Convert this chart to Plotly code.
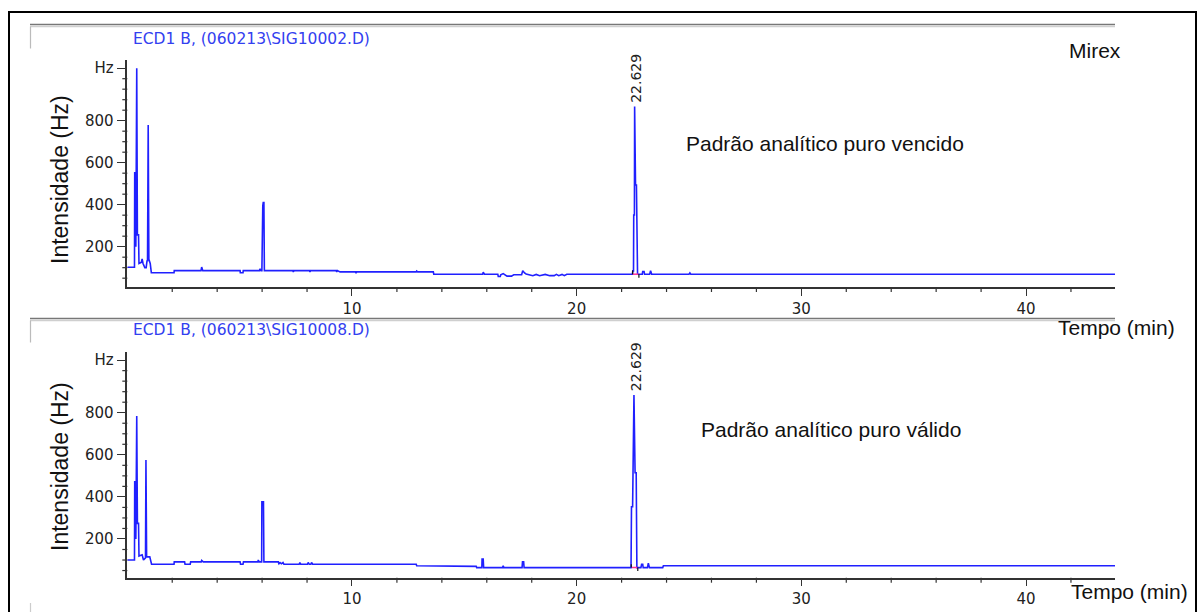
import plotly.graph_objects as go

W, H = 1197, 612

# ---------------- data ----------------
top_time = [0.00, 0.32, 0.33, 0.36, 0.38, 0.42, 0.45, 0.50, 0.52, 0.62, 0.66, 0.70, 0.78, 0.84, 0.88, 0.90,
            0.93, 0.96, 1.02, 1.07, 2.08, 2.09, 3.28, 3.31, 3.36, 5.02, 5.03, 5.15, 5.16, 5.88, 5.91, 5.95,
            5.99, 6.00, 6.03, 6.05, 6.08, 6.10, 7.37, 7.39, 7.42, 8.11, 8.13, 8.16, 9.30, 9.32, 9.35, 9.47,
            10.16, 10.18, 10.21, 12.86, 12.88, 12.92, 13.62, 13.64, 15.82, 15.84, 15.90, 16.49, 16.51, 16.60,
            16.62, 16.73, 16.80, 16.90, 17.10, 17.20, 17.55, 17.60, 17.68, 17.75, 18.05, 18.20, 18.35, 18.60,
            18.80, 19.00, 19.10, 19.20, 19.35, 19.45, 19.56, 22.48, 22.50, 22.53, 22.54, 22.57, 22.58, 22.62,
            22.66, 22.68, 22.71, 22.92, 22.94, 23.00, 23.02, 23.25, 23.29, 23.34, 25.00, 25.04, 25.08, 43.96]
top_int = [102, 102, 552, 552, 200, 1050, 256, 256, 120, 125, 142, 120, 100, 100, 135, 130,
           780, 140, 120, 76, 76, 86, 86, 103, 86, 86, 76, 76, 86, 86, 95, 86,
           86, 395, 395, 410, 410, 86, 86, 80, 86, 86, 80, 86, 86, 80, 86, 80,
           80, 74, 80, 80, 84, 80, 80, 69, 69, 78, 69, 69, 58, 58,
           66, 72, 66, 60, 60, 66, 66, 86, 75, 70, 62, 68, 62, 68,
           62, 62, 68, 62, 68, 62, 69, 69, 85, 85, 351, 351, 867, 494,
           494, 69, 69, 69, 82, 82, 69, 69, 85, 69, 69, 75, 69, 69]

bot_time = [0.00, 0.32, 0.33, 0.36, 0.38, 0.42, 0.45, 0.50, 0.52, 0.62, 0.66, 0.72, 0.78, 0.81, 0.83, 0.86,
            1.00, 1.08, 2.08, 2.09, 2.55, 2.57, 2.80, 2.82, 3.29, 3.31, 3.38, 5.02, 5.04, 5.15, 5.17, 5.81,
            5.83, 5.87, 5.98, 5.99, 6.06, 6.08, 6.72, 6.75, 6.80, 6.86, 6.93, 6.97, 7.65, 7.68, 7.72, 8.02,
            8.05, 8.10, 8.17, 8.20, 8.25, 12.86, 12.88, 13.17, 13.19, 15.53, 15.55, 15.78, 15.79, 15.84,
            15.86, 16.70, 16.73, 16.76, 17.57, 17.59, 17.64, 17.66, 22.42, 22.44, 22.49, 22.55, 22.60,
            22.65, 22.68, 22.86, 22.89, 22.94, 22.96, 23.15, 23.19, 23.24, 23.83, 23.86, 43.96]
bot_int = [100, 100, 472, 472, 200, 784, 274, 274, 119, 125, 125, 100, 110, 110, 575, 115,
           115, 80, 80, 91, 91, 80, 80, 91, 91, 98, 91, 91, 80, 80, 91, 91,
           100, 91, 91, 377, 377, 91, 91, 82, 88, 82, 88, 80, 80, 88, 80, 80,
           88, 80, 80, 88, 80, 80, 73, 73, 70, 70, 64, 64, 105, 105,
           64, 64, 73, 64, 64, 92, 92, 64, 64, 353, 353, 884, 515,
           515, 64, 64, 80, 80, 64, 64, 85, 64, 64, 73, 73]

# integration baseline (pink) and peak event marks (black)
top_base_t = [22.50, 22.75]
top_base_v = [69, 69]
bot_base_t = [22.46, 22.70]
bot_base_v = [64, 64]
top_mark_t = [22.49, 22.49, None, 22.77, 22.77]
top_mark_v = [69, 86, None, 69, 52]
bot_mark_t = [22.43, 22.43, None, 22.72, 22.72]
bot_mark_v = [64, 80, None, 64, 48]

peak_rt = 22.629
peak_label = "22.629"
top_peak_h = 867
bot_peak_h = 884

y_tickvals = [200, 400, 600, 800, 1050]
y_ticktext = ["200", "400", "600", "800", "Hz"]
x_tickvals = [10, 20, 30, 40]
x_ticktext = ["10", "20", "30", "40"]
y_minor_step = 50
x_minor_step = 2

header_top = "ECD1 B, (060213\\SIG10002.D)"
header_bot = "ECD1 B, (060213\\SIG10008.D)"

# ---------------- layout helpers ----------------
def fx(px):
    return px / W

def fy(py):
    return 1 - py / H

X_LEFT, X_RIGHT = 127.3, 1115
X_DOM = [fx(X_LEFT), fx(X_RIGHT)]
TOP_DOM = [fy(287), fy(60)]
BOT_DOM = [fy(577.7), fy(351.7)]
X_RANGE = [0, 43.96]
TOP_RANGE = [8, 1089]
BOT_RANGE = [16, 1090]

BLUE = "#2020ff"
AX = "#333333"

fig = go.Figure()

def add(xs, ys, color, width, xa, ya):
    fig.add_trace(go.Scatter(x=xs, y=ys, mode="lines", line=dict(color=color, width=width),
                             xaxis=xa, yaxis=ya, showlegend=False, hoverinfo="skip"))

add(top_time, top_int, BLUE, 1.6, "x", "y")
add(top_base_t, top_base_v, "#ff3399", 1.5, "x", "y")
add(top_mark_t, top_mark_v, "#111111", 1.2, "x", "y")
add(bot_time, bot_int, BLUE, 1.6, "x2", "y2")
add(bot_base_t, bot_base_v, "#ff3399", 1.5, "x2", "y2")
add(bot_mark_t, bot_mark_v, "#111111", 1.2, "x2", "y2")

tickfont = dict(family="DejaVu Sans", size=15, color="#222222")

def xaxis(anchor):
    return dict(domain=X_DOM, range=X_RANGE, anchor=anchor, showline=True, linecolor=AX, linewidth=1.5,
                showgrid=False, zeroline=False, ticks="outside", ticklen=7, tickwidth=1.4, tickcolor=AX,
                tickmode="array", tickvals=x_tickvals, ticktext=x_ticktext, tickfont=tickfont)

def yaxis(anchor, dom, rng):
    return dict(domain=dom, range=rng, anchor=anchor, showline=True, linecolor=AX, linewidth=1.5,
                showgrid=False, zeroline=False, ticks="outside", ticklen=9, tickwidth=1.4, tickcolor=AX,
                tickmode="array", tickvals=y_tickvals, ticktext=y_ticktext, tickfont=tickfont)

ann = []
FAM = "Liberation Sans, Arial, sans-serif"

def label(px, py, text, size, xanchor="left", color="#111111", family=None, angle=0):
    ann.append(dict(x=fx(px), y=fy(py), xref="paper", yref="paper", text=text, showarrow=False,
                    xanchor=xanchor, yanchor="middle", textangle=angle,
                    font=dict(family=family or FAM, size=size, color=color)))

label(60, 180, "Intensidade (Hz)", 23, xanchor="center", angle=-90)
label(60, 467, "Intensidade (Hz)", 23, xanchor="center", angle=-90)
label(1067, 50, "Mirex", 21)
label(684, 143, "Padrão analítico puro vencido", 21)
label(699, 430, "Padrão analítico puro válido", 21)
label(1056, 327, "Tempo (min)", 21)
label(1069, 591, "Tempo (min)", 21)
label(251, 39, header_top, 15.5, xanchor="center", color="#3340f0", family="DejaVu Sans")
label(251, 330, header_bot, 15.5, xanchor="center", color="#3340f0", family="DejaVu Sans")

for xr, yr, h in (("x", "y", top_peak_h), ("x2", "y2", bot_peak_h)):
    ann.append(dict(x=peak_rt, y=h, xref=xr, yref=yr, text=peak_label, showarrow=False,
                    textangle=-90, xanchor="center", yanchor="bottom", yshift=2,
                    font=dict(family="DejaVu Sans", size=14, color="#222222")))

shapes = []
# minor ticks: axis decorations placed on the same linear scale as the axes
TICK_W = 1.2
for dom, rng in ((TOP_DOM, TOP_RANGE), (BOT_DOM, BOT_RANGE)):
    def py_paper(v, dom=dom, rng=rng):
        return dom[0] + (v - rng[0]) / (rng[1] - rng[0]) * (dom[1] - dom[0])
    v = y_minor_step
    while v < rng[1]:
        if v > rng[0] and v not in y_tickvals:
            yy = py_paper(v)
            shapes.append(dict(type="line", xref="paper", yref="paper", x0=fx(X_LEFT - 5), x1=fx(X_LEFT),
                               y0=yy, y1=yy, line=dict(color=AX, width=TICK_W)))
        v += y_minor_step
    t = x_minor_step
    while t < X_RANGE[1]:
        if t not in x_tickvals:
            xx = X_DOM[0] + (t - X_RANGE[0]) / (X_RANGE[1] - X_RANGE[0]) * (X_DOM[1] - X_DOM[0])
            shapes.append(dict(type="line", xref="paper", yref="paper", x0=xx, x1=xx,
                               y0=dom[0] - 5 / H, y1=dom[0], line=dict(color=AX, width=TICK_W)))
        t += x_minor_step

shapes.append(dict(type="rect", xref="paper", yref="paper", x0=fx(9), x1=fx(1196), y0=fy(614), y1=fy(12),
                   line=dict(color="#000000", width=2), fillcolor="rgba(0,0,0,0)", layer="above"))
for py_line in (24.5, 318.5):
    shapes.append(dict(type="line", xref="paper", yref="paper", x0=fx(30), x1=fx(1115), y0=fy(py_line), y1=fy(py_line),
                       line=dict(color="#777777", width=1.5)))
    shapes.append(dict(type="line", xref="paper", yref="paper", x0=fx(30), x1=fx(1115), y0=fy(py_line + 2), y1=fy(py_line + 2),
                       line=dict(color="#cfcfcf", width=1.5)))
    shapes.append(dict(type="line", xref="paper", yref="paper", x0=fx(30.5), x1=fx(30.5), y0=fy(py_line + 2), y1=fy(py_line + 24),
                       line=dict(color="#bbbbbb", width=1.2)))
shapes.append(dict(type="line", xref="paper", yref="paper", x0=fx(30.5), x1=fx(30.5), y0=fy(603), y1=fy(612),
                   line=dict(color="#cccccc", width=1.2)))

fig.update_layout(
    width=W, height=H, margin=dict(l=0, r=0, t=0, b=0),
    paper_bgcolor="white", plot_bgcolor="white",
    xaxis=xaxis("y"), yaxis=yaxis("x", TOP_DOM, TOP_RANGE),
    xaxis2=xaxis("y2"), yaxis2=yaxis("x2", BOT_DOM, BOT_RANGE),
    annotations=ann, shapes=shapes, showlegend=False,
)

fig.write_html("out.html")
